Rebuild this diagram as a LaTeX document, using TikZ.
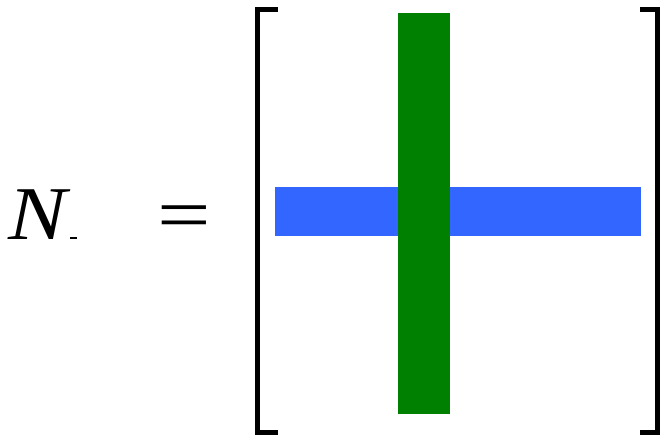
\documentclass[tikz,border=0pt]{standalone}
\usepackage{fontspec}
\setmainfont{Liberation Serif}
\usepackage{xcolor}
\usetikzlibrary{positioning}
\definecolor{barblue}{RGB}{51, 102, 255}
\definecolor{bargreen}{RGB}{0, 128, 0}

\begin{document}
\begin{tikzpicture}[
  x=1pt, y=-1pt,
  sym/.style={inner sep=0pt, font=\fontsize{76}{76}\selectfont},
  hbar/.style={fill=barblue, inner sep=0pt, minimum width=366pt, minimum height=49pt},
  vbar/.style={fill=bargreen, inner sep=0pt, minimum width=52pt, minimum height=401pt},
  brack/.style={line width=5pt, line cap=butt}
]
  \useasboundingbox (0,0) rectangle (662,438);

  % Left hand side
  \node[sym, anchor=base west, xscale=1.15] (lhs) at (8,240) {\textit{N}};
  \draw[line width=2pt] (70,238) -- (77,238);
  \node[sym, anchor=base, xscale=1.25] (eq) at (184,241) {=};

  % Bracket
  \draw[brack] (278,10) -- (257.5,10) -- (257.5,433) -- (278,433);
  \draw[brack] (640,10) -- (657.5,10) -- (657.5,433) -- (640,433);

  % Bars
  \node[hbar] (row) at (458,211.5) {};
  \node[vbar] (col) at (424,213.5) {};

\end{tikzpicture}
\end{document}
